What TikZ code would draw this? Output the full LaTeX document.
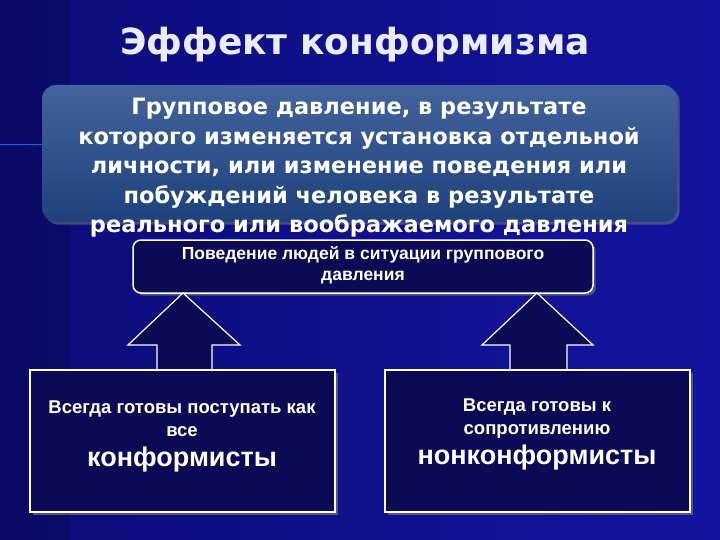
\documentclass[tikz,border=0pt]{standalone}
\usepackage{fontspec}
\setmainfont{Liberation Sans}
\newfontfamily\dv{DejaVu Sans}
\usetikzlibrary{shadows}
\definecolor{bgA}{HTML}{0C0C78}
\definecolor{bgB}{HTML}{1414A0}
\definecolor{boxblue}{HTML}{22488A}
\definecolor{navy}{HTML}{0A0A55}
\tikzset{
  wbox/.style={draw=white, line width=1.5pt, fill=navy, drop shadow={opacity=0.6}},
  arr/.style={draw=white, line width=1.2pt, fill=navy},
  txt/.style={text=white, font=\bfseries, align=center}
}
\begin{document}
\begin{tikzpicture}[x=1pt,y=-1pt]
\useasboundingbox (0,0) rectangle (720,540);
\shade[left color=bgA, right color=bgB] (0,0) rectangle (720,540);
\fill[black, opacity=0.15] (0,0) rectangle (70,540);
\draw[blue!60!cyan, line width=1pt] (0,145) -- (42,145);
% title
\node[txt, text=white!92!blue, font=\dv\bfseries\fontsize{36}{40}\selectfont] (title) at (355,45) {Эффект конформизма};
% blue box
\node[rounded corners=14pt, minimum width=635, minimum height=137, drop shadow={opacity=0.5}, top color=boxblue!85!white, bottom color=boxblue!90!black] (def) at (359.5,153.5) {};
\node[txt, font=\dv\bfseries\fontsize{22.5}{29.5}\selectfont] (deft) at (359,168) {Групповое давление, в результате\\которого изменяется установка отдельной\\личности, или изменение поведения или\\побуждений человека в результате\\реального или воображаемого давления};
% behaviour box
\node[wbox, rounded corners=8pt, minimum width=460, minimum height=53, inner sep=0] (beh) at (363,266.5) {};
\node[txt, font=\bfseries\fontsize{17.5}{21}\selectfont] at (363,265) {Поведение людей в ситуации группового\\давления};
% arrows
\draw[arr] (183,293) -- (240,345) -- (212,345) -- (212,370) -- (157,370) -- (157,345) -- (128,345) -- cycle;
\draw[arr] (537,293) -- (593,345) -- (567,345) -- (567,370) -- (510,370) -- (510,345) -- (482,345) -- cycle;
% bottom boxes
\node[wbox, minimum width=305, minimum height=142, inner sep=0] (conf) at (182.5,441) {};
\node[wbox, minimum width=305, minimum height=142, inner sep=0] (nonc) at (537.5,441) {};
\node[txt, font=\bfseries\fontsize{18.5}{23}\selectfont] at (182,419) {Всегда готовы поступать как\\все};
\node[txt, font=\bfseries\fontsize{27}{30}\selectfont] at (182,460) {конформисты};
\node[txt, font=\bfseries\fontsize{18.5}{23}\selectfont] at (537,419) {Всегда готовы к\\сопротивлению};
\node[txt, font=\bfseries\fontsize{27}{30}\selectfont] at (537,458) {нонконформисты};
\end{tikzpicture}
\end{document}
